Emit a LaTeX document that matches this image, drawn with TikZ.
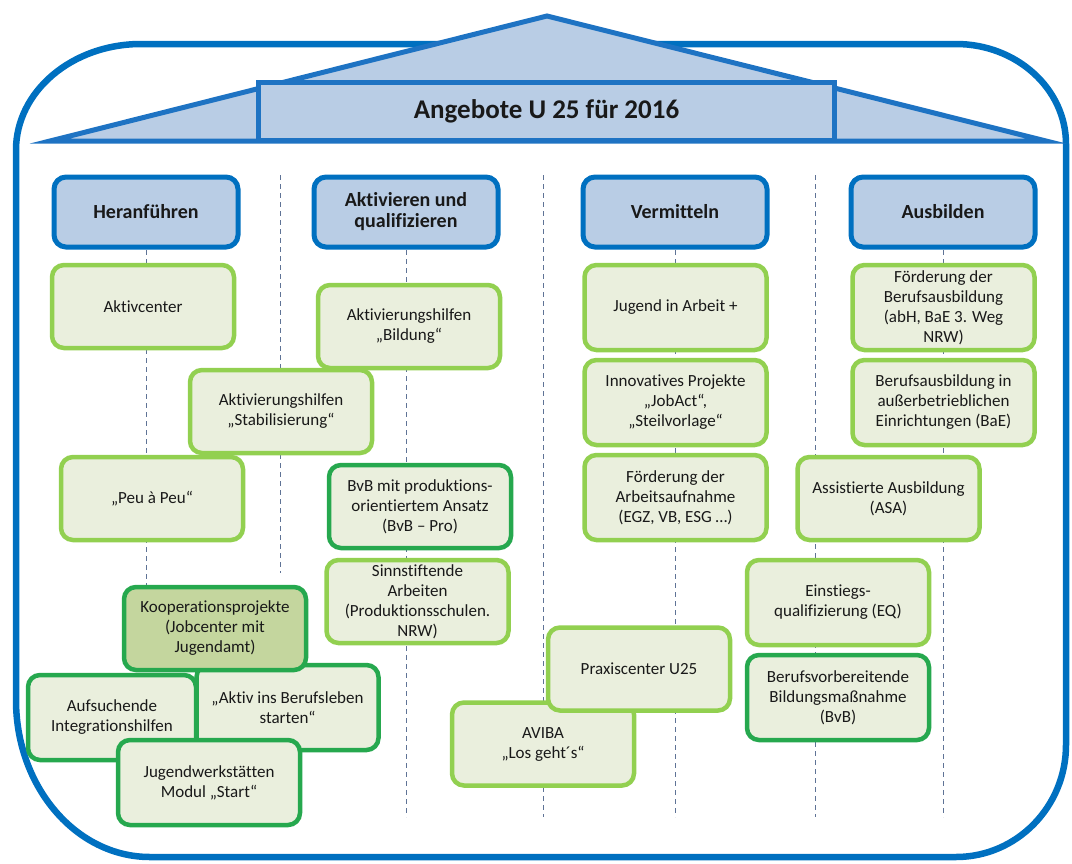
\documentclass[tikz,border=0pt]{standalone}
\usepackage{fontspec}
\setmainfont{Carlito}[Ligatures=NoCommon]
\definecolor{frameblue}{RGB}{0,112,192}
\definecolor{roofblue}{RGB}{30,115,195}
\definecolor{lightblue}{RGB}{185,205,229}
\definecolor{lgreen}{RGB}{146,208,80}
\definecolor{dgreen}{RGB}{38,168,78}
\definecolor{boxfill}{RGB}{234,239,221}
\definecolor{koopfill}{RGB}{196,214,158}
\definecolor{dashcol}{RGB}{95,115,150}
\definecolor{txt}{RGB}{25,25,25}
\begin{document}
\begin{tikzpicture}[x=1pt,y=-1pt,
  gbox/.style={draw=lgreen, line width=4.5pt, fill=boxfill, rounded corners=12pt,
    minimum width=182pt, minimum height=83pt, align=center, inner sep=2pt,
    font=\fontsize{17}{20}\selectfont, text=txt},
  dbox/.style={gbox, draw=dgreen},
  hbox/.style={draw=frameblue, line width=5pt, fill=lightblue, rounded corners=12pt,
    minimum width=184pt, minimum height=70pt, align=center, inner sep=2pt,
    font=\bfseries\fontsize{20}{21}\selectfont, text=txt},
  guide/.style={draw=dashcol, line width=0.8pt, dash pattern=on 5pt off 4pt},
  framestyle/.style={draw=frameblue, line width=6.5pt},
]
\useasboundingbox (0,0) rectangle (1072,863);

% outer frame (corners of unequal radii)
\draw[framestyle]
  (16,700) -- (16,150)
  .. controls (16,91.5) and (72,44) .. (141,44)
  -- (956,44)
  .. controls (1016.7,44) and (1066,88.8) .. (1066,144)
  -- (1066,745)
  .. controls (1066,806.8) and (1016.7,857) .. (956,857)
  -- (150,857)
  .. controls (76,857) and (16,786.7) .. (16,700) -- cycle;
% roof
\draw[roofblue, line width=5pt, fill=lightblue, line join=miter] (50,141) -- (547,16) -- (1046,141) -- cycle;
\node[draw=roofblue, line width=5pt, fill=lightblue, minimum width=576pt, minimum height=58pt,
  inner sep=0pt, font=\bfseries\fontsize{27}{28}\selectfont, text=txt] (title) at (546.5,111.5) {Angebote U 25 für 2016};

% guide lines
\coordinate (t1) at (146,250); \coordinate (b1) at (146,585);
\coordinate (t2) at (280,175); \coordinate (b2) at (280,573);
\coordinate (t3) at (406,250); \coordinate (b3) at (406,817);
\coordinate (t4) at (543,175); \coordinate (b4) at (543,817);
\coordinate (t5) at (675,250); \coordinate (b5) at (675,817);
\coordinate (t6) at (815,175); \coordinate (b6) at (815,817);
\coordinate (t7) at (943,250); \coordinate (b7) at (943,817);
\foreach \i in {1,...,7} {\draw[guide] (t\i) -- (b\i);}

% headers
\node[hbox] (h1) at (146,212) {Heranführen};
\node[hbox] (h2) at (406,212) {Aktivieren und\\qualifizieren};
\node[hbox] (h3) at (675,212) {Vermitteln};
\node[hbox] (h4) at (943,212) {Ausbilden};

% column 1 / 2
\node[gbox] (aktivcenter) at (143,306.5) {Aktivcenter};
\node[gbox] (bildung) at (409,326.5) {Aktivierungshilfen\\„Bildung“};
\node[gbox] (stabil) at (281,411.5) {Aktivierungshilfen\\„Stabilisierung“};
\node[gbox] (peu) at (152,498.5) {„Peu à Peu“};
\node[dbox] (bvbpro) at (420,506.5) {BvB mit produktions-\\orientiertem Ansatz\\(BvB – Pro)};
\node[gbox] (sinn) at (417.5,601.5) {Sinnstiftende\\Arbeiten\\(Produktionsschulen.\\NRW)};
\node[dbox, minimum width=168pt, minimum height=85pt] (aufs) at (112,717.5) {Aufsuchende\\Integrationshilfen};
\node[dbox, minimum height=85pt] (aktivins) at (287.5,707.5) {„Aktiv ins Berufsleben\\starten“};
\node[dbox, minimum height=85pt] (jugendw) at (209,782.5) {Jugendwerkstätten\\Modul „Start“};
\node[dbox, fill=koopfill] (koop) at (215,628.5) {Kooperationsprojekte\\(Jobcenter mit\\Jugendamt)};

% column 3
\node[gbox, minimum height=85pt] (jugend) at (675.5,307.5) {Jugend in Arbeit +};
\node[gbox, minimum height=85pt] (innov) at (675.5,402.5) {Innovatives Projekte\\„JobAct“,\\„Steilvorlage“};
\node[gbox, minimum height=85pt] (foerdarb) at (675.5,497.5) {Förderung der\\Arbeitsaufnahme\\(EGZ, VB, ESG …)};
\node[gbox] (aviba) at (543,744) {AVIBA\\„Los geht´s“};
\node[gbox] (praxis) at (639,669) {Praxiscenter U25};

% column 4
\node[gbox, minimum height=85pt] (foerdber) at (943.5,307.5) {Förderung der\\Berufsausbildung\\(abH, BaE 3. Weg\\NRW)};
\node[gbox, minimum height=85pt] (bae) at (943.5,402.5) {Berufsausbildung in\\außerbetrieblichen\\Einrichtungen (BaE)};
\node[gbox] (asa) at (888.5,498.5) {Assistierte Ausbildung\\(ASA)};
\node[gbox, minimum height=85pt] (eq) at (838,602.5) {Einstiegs-\\qualifizierung (EQ)};
\node[dbox, minimum height=85pt] (bvb) at (838,697.5) {Berufsvorbereitende\\Bildungsmaßnahme\\(BvB)};
\end{tikzpicture}
\end{document}
